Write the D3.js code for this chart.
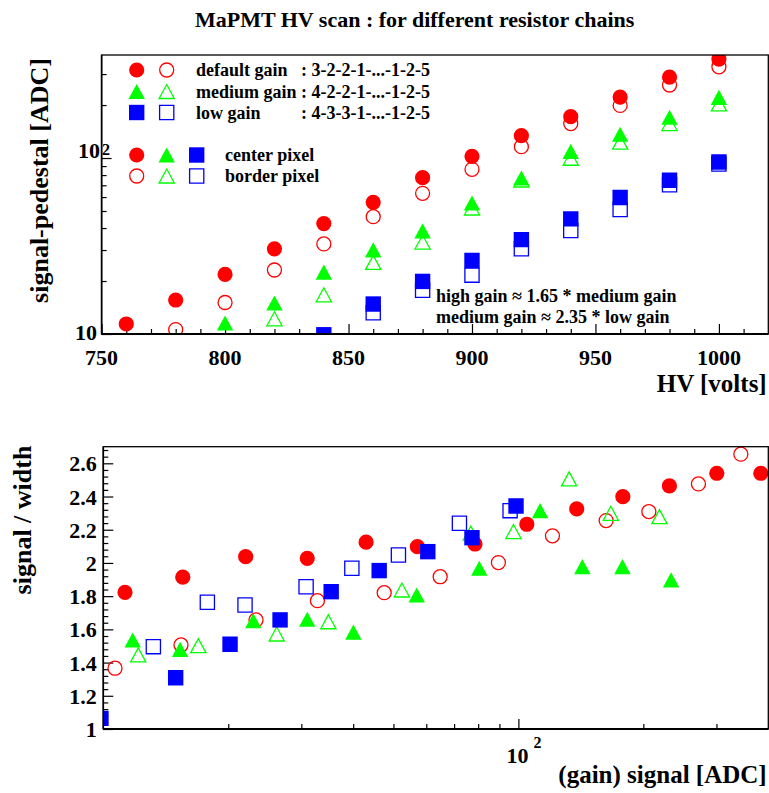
<!DOCTYPE html>
<html>
<head>
<meta charset="utf-8">
<script src="https://cdn.jsdelivr.net/npm/d3@7"></script>
<style>
  html, body { margin: 0; padding: 0; background: #fff; }
  svg text { font-family: "Liberation Serif", "Times New Roman", serif; font-weight: bold; fill: #000; }
</style>
</head>
<body>
<svg id="chart" width="769" height="793"></svg>
<script>
// ---- HV settings of the scan [V] ----
const hv = [760, 780, 800, 820, 840, 860, 880, 900, 920, 940, 960, 980, 1000];

// ---- signal - pedestal [ADC] per HV point (null = below range) ----
const sigDefCenter = [11.4, 15.6, 21.8, 30.5, 42.4, 56, 77.3, 102.3, 134, 171.7, 222, 288, 365];
const sigDefBorder = [null, 10.6, 15.1, 23.1, 32.5, 46.4, 63, 86.3, 116, 157, 199, 260, 330];
const sigMedCenter = [9.15, 9.35, 11.55, 15.0, 22.5, 30.1, 38.5, 55.5, 77, 109, 136.5, 170.5, 221];
const sigMedBorder = [null, null, 9.2, 12.2, 16.7, 25.5, 33.3, 52, 75, 99.7, 123, 157, 203];
const sigLowCenter = [null, null, null, null, 9.9, 14.8, 19.9, 26.2, 34.4, 45.1, 59.7, 74.7, 94.9];
const sigLowBorder = [null, null, null, null, null, 13.2, 17.7, 21.6, 30.5, 38.7, 51, 70.5, 92.5];

// ---- (gain) signal [ADC] and signal/width per HV point ----
const gainDefCenter = [11.28, 15.54, 22.03, 31.0, 42.96, 57.1, 78.6, 104.8, 138.2, 178.5, 231.1, 300.6, 383.7];
const swDefCenter   = [1.823, 1.914, 2.038, 2.028, 2.125, 2.098, 2.114, 2.233, 2.325, 2.399, 2.464, 2.540, 2.540];
const gainDefBorder = [null, 10.67, 15.39, 23.33, 32.8, 47.5, 64.8, 89.5, 120.8, 162.7, 206.2, 271.5, 343.5];
const swDefBorder   = [null, 1.366, 1.506, 1.657, 1.773, 1.821, 1.917, 2.002, 2.163, 2.255, 2.309, 2.476, 2.655];
const gainMedCenter = [null, null, 11.77, 15.31, 22.98, 31.0, 40.04, 56.9, 80.5, 112.8, 142.6, 178.1, 233.3];
const swMedCenter   = [null, null, 1.536, 1.48, 1.652, 1.661, 1.583, 1.807, 1.968, 2.315, 1.978, 1.978, 1.898];
const gainMedBorder = [null, null, null, 12.14, 16.94, 26.17, 34.85, 52.4, 76.8, 97.3, 132.5, 167.0, 218.7];
const swMedBorder   = [null, null, null, 1.446, 1.502, 1.572, 1.646, 1.837, 2.179, 2.189, 2.506, 2.299, 2.279];
const gainLowCenter = [null, null, null, null, 9.87, 14.94, 20.2, 26.66, 35.4, 46.2, 60.5, 77.3, 98.7];
const swLowCenter   = [null, null, null, null, 1.064, 1.309, 1.510, 1.657, 1.827, 1.954, 2.068, 2.152, 2.343];
const gainLowBorder = [null, null, null, null, null, 13.2, 17.81, 21.95, 30.8, 39.7, 51.4, 72.1, 95.5];
const swLowBorder   = [null, null, null, null, null, 1.496, 1.763, 1.747, 1.857, 1.968, 2.048, 2.239, 2.315];

// ---- axis tick labels ----
const hvTickLabels = [750, 800, 850, 900, 950, 1000];
const swTickLabels = [1, 1.2, 1.4, 1.6, 1.8, 2, 2.2, 2.4, 2.6];

// ---- legend texts ----
const chainNames = ["default gain", "medium gain", "low gain"];
const chainCodes = [": 3-2-2-1-...-1-2-5", ": 4-2-2-1-...-1-2-5", ": 4-3-3-1-...-1-2-5"];
const pixelNames = ["center pixel", "border pixel"];
const gainNotes = ["high gain \u2248 1.65 * medium gain", "medium gain \u2248 2.35 * low gain"];

const RED = "#ff0000", GREEN = "#00ff00", BLUE = "#0000ff";

// drawing order: border (open) first, then center (filled), per chain
const series = [
  { color: RED,   shape: "circle",   filled: false, sig: sigDefBorder, gain: gainDefBorder, sw: swDefBorder },
  { color: RED,   shape: "circle",   filled: true,  sig: sigDefCenter, gain: gainDefCenter, sw: swDefCenter },
  { color: GREEN, shape: "triangle", filled: false, sig: sigMedBorder, gain: gainMedBorder, sw: swMedBorder },
  { color: GREEN, shape: "triangle", filled: true,  sig: sigMedCenter, gain: gainMedCenter, sw: swMedCenter },
  { color: BLUE,  shape: "square",   filled: false, sig: sigLowBorder, gain: gainLowBorder, sw: swLowBorder },
  { color: BLUE,  shape: "square",   filled: true,  sig: sigLowCenter, gain: gainLowCenter, sw: swLowCenter }
];

const svg = d3.select("#chart");

// marker outline as a path string centred on (cx, cy)
function markerPath(shape, filled, cx, cy) {
  const p = d3.path();
  if (shape === "circle") {
    const r = filled ? 7.6 : 7.0;
    p.moveTo(cx + r, cy);
    p.arc(cx, cy, r, 0, 2 * Math.PI);
  } else if (shape === "square") {
    const h = filled ? 7.7 : 7.1;
    p.rect(cx - h, cy - h, 2 * h, 2 * h);
  } else {
    const w = filled ? 8.2 : 7.6, t = filled ? 7.6 : 7.0;
    p.moveTo(cx - w, cy + t);
    p.lineTo(cx + w, cy + t);
    p.lineTo(cx, cy - t);
    p.closePath();
  }
  return p.toString();
}

function drawMarker(g, shape, filled, color, cx, cy) {
  g.append("path")
    .attr("d", markerPath(shape, filled, cx, cy))
    .attr("fill", filled ? color : "none")
    .attr("stroke", filled ? "none" : color)
    .attr("stroke-width", filled ? 0 : 1.3);
}

function styleTicks(g) {
  g.select(".domain").remove();
  g.selectAll("line").attr("stroke", "#000").attr("stroke-width", 1.2);
}

// ---------------- title ----------------
svg.append("text")
  .attr("x", 414.7).attr("y", 27)
  .attr("text-anchor", "middle")
  .style("font-size", "22px")
  .text("MaPMT HV scan : for different resistor chains");

// ================= upper panel: signal-pedestal vs HV =================
const T = { left: 101.6, right: 768.3, top: 55, bottom: 334 };
const xHV = d3.scaleLinear().domain([750, 1020]).range([T.left, T.right]);
const ySig = d3.scaleLog().domain([10, 385]).range([T.bottom, T.top]);

const upper = svg.append("g");

// ticks (drawn inward)
upper.append("g").attr("transform", `translate(0,${T.bottom})`)
  .call(d3.axisBottom(xHV).tickValues(d3.range(760, 1020, 10).filter(v => v % 50 !== 0)).tickSize(-5).tickFormat(""))
  .call(styleTicks);
upper.append("g").attr("transform", `translate(0,${T.bottom})`)
  .call(d3.axisBottom(xHV).tickValues(hvTickLabels).tickSize(-10).tickFormat(""))
  .call(styleTicks);
upper.append("g").attr("transform", `translate(${T.left},0)`)
  .call(d3.axisLeft(ySig).tickValues([20, 30, 40, 50, 60, 70, 80, 90, 200, 300]).tickSize(-5).tickFormat(""))
  .call(styleTicks);
upper.append("g").attr("transform", `translate(${T.left},0)`)
  .call(d3.axisLeft(ySig).tickValues([10, 100]).tickSize(-10).tickFormat(""))
  .call(styleTicks);

// markers, clipped to the frame
svg.append("clipPath").attr("id", "clipUpper")
  .append("rect").attr("x", T.left).attr("y", T.top)
  .attr("width", T.right - T.left).attr("height", T.bottom - T.top);
const upperMarks = upper.append("g").attr("clip-path", "url(#clipUpper)");
series.forEach(s => {
  hv.forEach((v, i) => {
    if (s.sig[i] == null) return;
    drawMarker(upperMarks, s.shape, s.filled, s.color, xHV(v), ySig(s.sig[i]));
  });
});

// frame
upper.append("rect").attr("x", T.left).attr("y", T.top)
  .attr("width", T.right - T.left).attr("height", T.bottom - T.top)
  .attr("fill", "none").attr("stroke", "#000").attr("stroke-width", 1.3);
upper.append("line").attr("x1", T.left).attr("x2", T.right).attr("y1", T.bottom).attr("y2", T.bottom)
  .attr("stroke", "#000").attr("stroke-width", 2);
upper.append("line").attr("x1", T.left).attr("x2", T.left).attr("y1", T.top).attr("y2", T.bottom)
  .attr("stroke", "#000").attr("stroke-width", 1.6);

// x tick labels
upper.selectAll("text.hvlab").data(hvTickLabels).enter().append("text")
  .attr("class", "hvlab")
  .attr("x", d => xHV(d)).attr("y", 364.5)
  .attr("text-anchor", "middle").style("font-size", "22px")
  .text(d => d);

// y tick labels (10 and 10^2)
upper.append("text").attr("x", 97).attr("y", 340).attr("text-anchor", "end")
  .style("font-size", "22px").text("10");
upper.append("text").attr("x", 100).attr("y", ySig(100)).attr("text-anchor", "end")
  .style("font-size", "22px").text("10");
upper.append("text").attr("x", 102).attr("y", ySig(100) - 3)
  .style("font-size", "16px").text("2");

// axis titles
upper.append("text").attr("x", 766.7).attr("y", 392).attr("text-anchor", "end")
  .style("font-size", "25px").text("HV [volts]");
upper.append("text").attr("transform", "translate(48,180.5) rotate(-90)")
  .attr("text-anchor", "middle").style("font-size", "26px")
  .text("signal-pedestal  [ADC]");

// legend: resistor chains
const legendRowsY = [70, 91.5, 112.5];
const chainStyle = [["circle", RED], ["triangle", GREEN], ["square", BLUE]];
chainNames.forEach((name, i) => {
  const [shape, color] = chainStyle[i];
  drawMarker(upper, shape, true, color, 136.7, legendRowsY[i]);
  drawMarker(upper, shape, false, color, 166.7, legendRowsY[i]);
  upper.append("text").attr("x", 196).attr("y", legendRowsY[i] + 6)
    .style("font-size", "18px").text(name);
  upper.append("text").attr("x", 301).attr("y", legendRowsY[i] + 6)
    .style("font-size", "18px").text(chainCodes[i]);
});

// legend: pixel position
const pixelRowsY = [155, 176];
pixelNames.forEach((name, r) => {
  chainStyle.forEach(([shape, color], c) => {
    drawMarker(upper, shape, r === 0, color, 136.7 + 30 * c, pixelRowsY[r]);
  });
  upper.append("text").attr("x", 225).attr("y", pixelRowsY[r] + 5.5)
    .style("font-size", "18px").text(name);
});

// gain ratio notes
gainNotes.forEach((t, i) => {
  upper.append("text").attr("x", 436).attr("y", 301.5 + 21 * i)
    .style("font-size", "18px").text(t);
});

// ================= lower panel: signal/width vs (gain) signal =================
const B = { left: 103.3, right: 768.3, top: 446.7, bottom: 729 };
const xGain = d3.scaleLog().domain([10, 400]).range([B.left, B.right]);
const ySW = d3.scaleLinear().domain([1, 2.7]).range([B.bottom, B.top]);

const lower = svg.append("g");

lower.append("g").attr("transform", `translate(0,${B.bottom})`)
  .call(d3.axisBottom(xGain).tickValues([20, 30, 40, 50, 60, 70, 80, 90, 200, 300]).tickSize(-5).tickFormat(""))
  .call(styleTicks);
lower.append("g").attr("transform", `translate(0,${B.bottom})`)
  .call(d3.axisBottom(xGain).tickValues([100]).tickSize(-10).tickFormat(""))
  .call(styleTicks);
const swMinor = d3.range(0, 43).map(k => +(1 + 0.04 * k).toFixed(2))
  .filter(v => v <= 2.7 && Math.abs(v * 5 - Math.round(v * 5)) > 1e-6);
lower.append("g").attr("transform", `translate(${B.left},0)`)
  .call(d3.axisLeft(ySW).tickValues(swMinor).tickSize(-5).tickFormat(""))
  .call(styleTicks);
lower.append("g").attr("transform", `translate(${B.left},0)`)
  .call(d3.axisLeft(ySW).tickValues(swTickLabels).tickSize(-10).tickFormat(""))
  .call(styleTicks);

svg.append("clipPath").attr("id", "clipLower")
  .append("rect").attr("x", B.left).attr("y", B.top)
  .attr("width", B.right - B.left).attr("height", B.bottom - B.top);
const lowerMarks = lower.append("g").attr("clip-path", "url(#clipLower)");
series.forEach(s => {
  s.gain.forEach((g, i) => {
    if (g == null || s.sw[i] == null) return;
    drawMarker(lowerMarks, s.shape, s.filled, s.color, xGain(g), ySW(s.sw[i]));
  });
});

lower.append("rect").attr("x", B.left).attr("y", B.top)
  .attr("width", B.right - B.left).attr("height", B.bottom - B.top)
  .attr("fill", "none").attr("stroke", "#000").attr("stroke-width", 1.3);
lower.append("line").attr("x1", B.left).attr("x2", B.right).attr("y1", B.bottom).attr("y2", B.bottom)
  .attr("stroke", "#000").attr("stroke-width", 2);
lower.append("line").attr("x1", B.left).attr("x2", B.left).attr("y1", B.top).attr("y2", B.bottom)
  .attr("stroke", "#000").attr("stroke-width", 1.6);

// y tick labels
lower.selectAll("text.swlab").data(swTickLabels).enter().append("text")
  .attr("class", "swlab")
  .attr("x", 96.7).attr("y", d => ySW(d) + 8)
  .attr("text-anchor", "end").style("font-size", "22px")
  .text(d => d3.format("")(d));

// x tick label 10^2
lower.append("text").attr("x", xGain(100) + 10).attr("y", 763.3).attr("text-anchor", "end")
  .style("font-size", "22px").text("10");
lower.append("text").attr("x", xGain(100) + 15).attr("y", 748.3)
  .style("font-size", "16px").text("2");

// axis titles
lower.append("text").attr("x", 766.7).attr("y", 783).attr("text-anchor", "end")
  .style("font-size", "25px").text("(gain) signal [ADC]");
lower.append("text").attr("transform", "translate(31,520) rotate(-90)")
  .attr("text-anchor", "middle").style("font-size", "26px")
  .text("signal / width");
</script>
</body>
</html>
